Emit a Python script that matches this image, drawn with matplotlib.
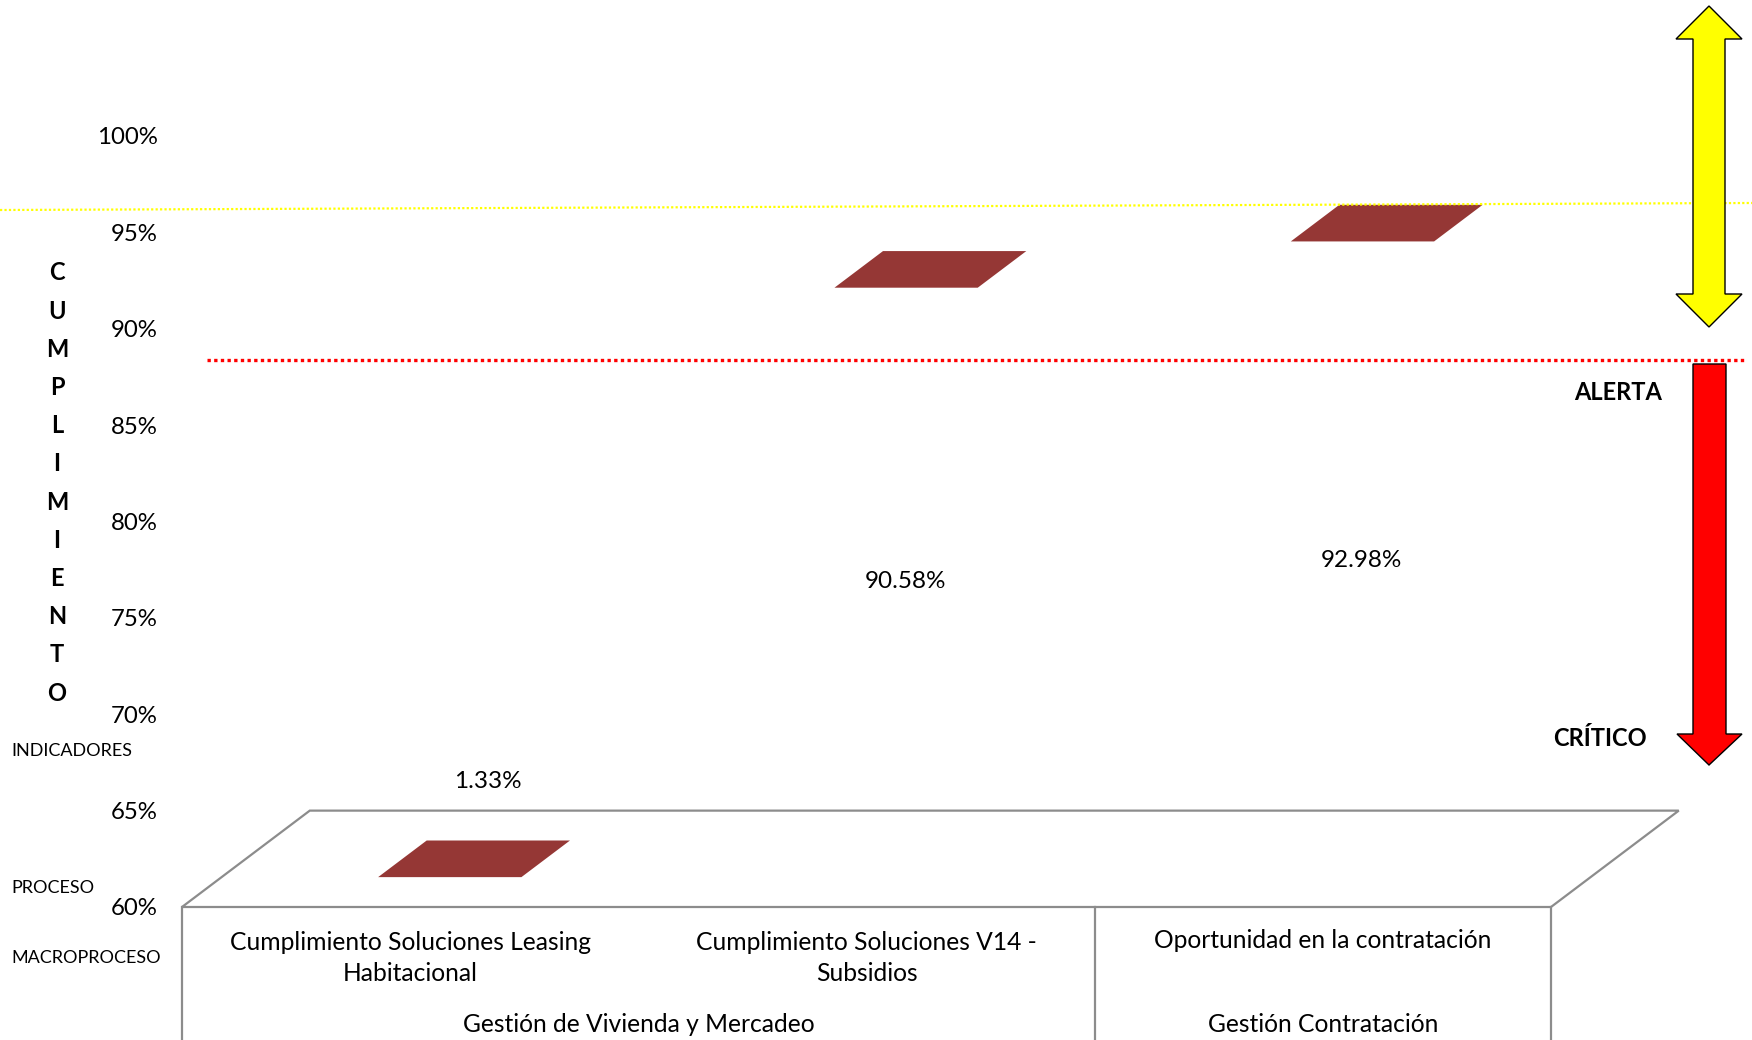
import numpy as np
import matplotlib
matplotlib.use('Agg')
import matplotlib.pyplot as plt
from matplotlib.patches import Polygon
from matplotlib import transforms

plt.rcParams['font.family'] = ['Lato', 'DejaVu Sans']

# data
indicadores = ['Cumplimiento Soluciones Leasing\nHabitacional',
               'Cumplimiento Soluciones V14 -\nSubsidios',
               'Oportunidad en la contratación']
macroprocesos = ['Gestión de Vivienda y Mercadeo', 'Gestión Contratación']
macro_span = [(0, 1), (2, 2)]          # first / last indicator of each macroproceso
cumplimiento = [1.33, 90.58, 92.98]
etiquetas = ['1.33%', '90.58%', '92.98%']
label_dx = [0.17, 0.085, 0.085]        # where Excel left the data labels
label_y = [66.5, 76.9, 78.0]
yticks = np.arange(60, 101, 5)

W, H = 1752, 1040
fig = plt.figure(figsize=(W / 100, H / 100), dpi=100)

# front plane of the 3d box
ax = fig.add_axes([182 / W, 1 - 907 / H, (1551 - 182) / W, (907 - 136) / H])
ax.set_xlim(-0.5, 2.5)
ax.set_ylim(60, 100)
for s in ax.spines.values():
    s.set_visible(False)
ax.set_xticks([])
ax.set_yticks(yticks)
ax.set_yticklabels(['%d%%' % v for v in yticks], fontsize=17.3)
ax.tick_params(axis='y', length=0, pad=17.5)
ax.patch.set_visible(False)

# depth of the box in data units (oblique projection)
ddx, ddy = 0.28, 5.0
grey = '#8c8c8c'

floor = [(-0.5, 60), (2.5, 60), (2.5 + ddx, 60 + ddy), (-0.5 + ddx, 60 + ddy)]
ax.add_patch(Polygon(floor, closed=True, fill=False, edgecolor=grey, lw=1.6, clip_on=False))

# category table under the floor
for x in [-0.5, 1.5, 2.5]:
    ax.plot([x, x], [60, 45], color=grey, lw=1.6, clip_on=False)

trans = transforms.blended_transform_factory(ax.transData, fig.transFigure)
for i, name in enumerate(indicadores):
    n_lines = name.count('\n') + 1
    ax.text(i, 1 - (941 + 17 * (n_lines - 1)) / H, name, transform=trans,
            ha='center', va='center', fontsize=17.7, linespacing=1.4)
for (a, b), name in zip(macro_span, macroprocesos):
    ax.text((a + b) / 2, 1 - 1025 / H, name, transform=trans,
            ha='center', va='center', fontsize=17.7)

# flat markers (3d line ribbon seen from above)
hw = 0.157
d0, d1 = 0.31, 0.69
for i, v in enumerate(cumplimiento):
    yv = max(v, 60)
    pts = [(i - hw + d0 * ddx, yv + d0 * ddy), (i + hw + d0 * ddx, yv + d0 * ddy),
           (i + hw + d1 * ddx, yv + d1 * ddy), (i - hw + d1 * ddx, yv + d1 * ddy)]
    ax.add_patch(Polygon(pts, closed=True, facecolor='#953735', edgecolor='none',
                         clip_on=False, zorder=3))
    ax.text(i + label_dx[i], label_y[i], etiquetas[i], ha='center', va='center',
            fontsize=17.5)

# overlay in pixel units for the hand drawn shapes
ov = fig.add_axes([0, 0, 1, 1], zorder=5)
ov.set_xlim(0, W)
ov.set_ylim(H, 0)
ov.axis('off')
ov.patch.set_visible(False)

ov.plot([0, W], [210, 203], color='#ffff00', lw=1.6, ls=(0, (1, 1)), zorder=1)
ov.plot([207, 1745], [360, 360], color='#ff0000', lw=2.4, ls=(0, (1, 1)), zorder=1)

yellow = [(1709, 6), (1742, 39), (1725, 39), (1725, 294), (1742, 294), (1709, 327),
          (1676, 294), (1693, 294), (1693, 39), (1676, 39)]
ov.add_patch(Polygon(yellow, closed=True, facecolor='#ffff00', edgecolor='black', lw=1, zorder=2))
red = [(1693, 364), (1726, 364), (1726, 734), (1742, 734), (1709, 765), (1677, 734), (1693, 734)]
ov.add_patch(Polygon(red, closed=True, facecolor='#ff0000', edgecolor='black', lw=1, zorder=2))

ov.text(1662, 392, 'ALERTA', ha='right', va='center', fontsize=17, fontweight='bold')
ov.text(1647, 739, 'CRÍTICO', ha='right', va='center', fontsize=17, fontweight='bold')

ov.text(57, 483, '\n'.join('CUMPLIMIENTO'), ha='center', va='center', fontsize=17,
        fontweight='bold', linespacing=1.8)
ov.text(11, 751, 'INDICADORES', ha='left', va='center', fontsize=13)
ov.text(11, 888, 'PROCESO', ha='left', va='center', fontsize=13)
ov.text(11, 958, 'MACROPROCESO', ha='left', va='center', fontsize=13)

fig.savefig('out.png', dpi=100, facecolor='white')
